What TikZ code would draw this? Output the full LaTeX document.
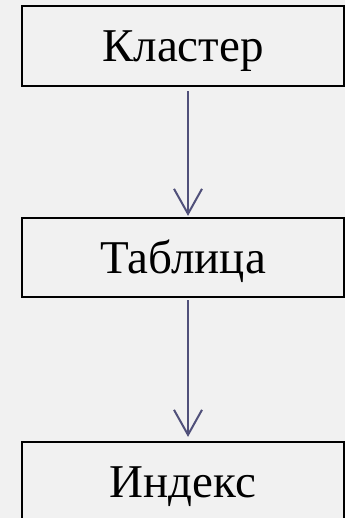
\documentclass[tikz,border=0pt]{standalone}
\usepackage{fontspec}
\setmainfont{Liberation Serif}
\usetikzlibrary{arrows.meta}
\definecolor{bgcol}{HTML}{F1F1F1}
\definecolor{arrowcol}{RGB}{80,80,122}
\begin{document}
\begin{tikzpicture}[x=1pt, y=1pt,
    every node/.style={draw, line width=2.2pt, minimum width=322pt, inner sep=0pt,
        text height=42pt, text depth=10pt, font=\fontsize{47}{52}\selectfont},
    link/.style={draw=arrowcol, line width=2pt, -{Straight Barb[length=25pt, width=28pt]}}]
    \path[use as bounding box, fill=bgcol] (0,0) rectangle (345,518);
    \node[minimum height=80pt] (K) at (183,472)   {Кластер};
    \node[minimum height=79pt] (T) at (183,260.5) {Таблица};
    \node[minimum height=80pt] (I) at (183,36)    {Индекс};

    \draw[link, shorten <=4pt, shorten >=1pt] ([xshift=5pt]K.south) -- ([xshift=5pt]T.north);
    \draw[link, shorten <=2pt, shorten >=4pt] ([xshift=5pt]T.south) -- ([xshift=5pt]I.north);
\end{tikzpicture}
\end{document}
